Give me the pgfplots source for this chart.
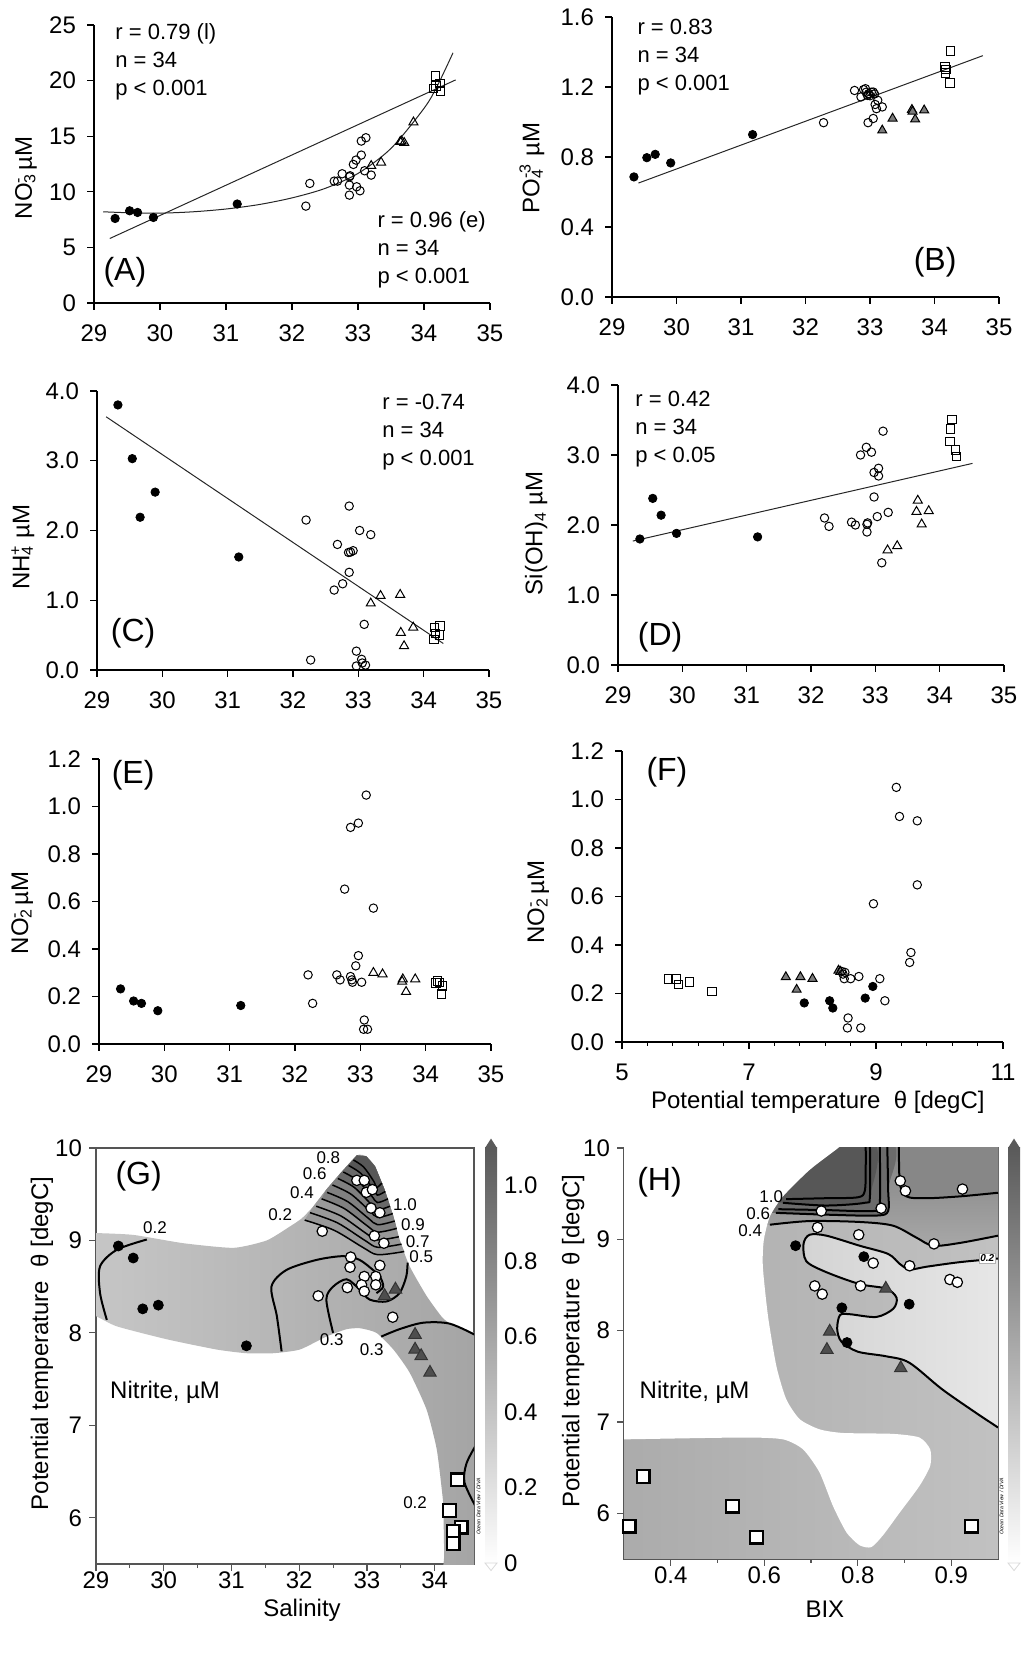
\documentclass[border=0pt]{standalone}
\usepackage{fontspec}
\setmainfont{Liberation Sans}
\usepackage{pgfplots}
\pgfplotsset{compat=1.18}

\newcommand\ft{\fontsize{12}{14}\selectfont}
\newcommand\fy{\fontsize{12}{14}\selectfont}
\newcommand\fa{\fontsize{11}{14}\selectfont}
\newcommand\fl{\fontsize{16}{18}\selectfont}
\newcommand\fc{\fontsize{8.5}{10}\selectfont}

\definecolor{trig}{HTML}{7C7C7C}
\definecolor{trid}{HTML}{4E4E4E}
\definecolor{frm}{HTML}{555555}
\definecolor{cbdark}{HTML}{5A5A5A}

\tikzset{
  anno/.style={font=\fa, align=left, inner sep=0pt},
  plet/.style={font=\fl, inner sep=0pt},
}
\pgfplotsset{
  sc/.style={scale only axis, anchor=south west, axis lines=left,
    axis line style={-,line width=0.6pt}, tick align=outside,
    major tick length=3.5pt, minor tick length=2pt,
    tick style={black,line width=0.6pt},
    tick label style={font=\ft}, label style={font=\fy},
    /pgf/number format/assume math mode=true,
    xmin=29, xmax=35, xtick={29,...,35}, clip=false,
    xticklabel style={yshift=-4pt}, yticklabel style={xshift=-2pt}},
  yfix/.style={yticklabel style={/pgf/number format/.cd,fixed,fixed zerofill,precision=1}},
  blk/.style={only marks, mark=*, mark size=2.1pt, mark options={draw=black, fill=black}},
  opn/.style={only marks, mark=o, mark size=2.1pt, mark options={line width=0.5pt, draw=black}},
  otri/.style={only marks, mark=triangle, mark size=2.6pt, mark options={line width=0.5pt, draw=black}},
  gtri/.style={only marks, mark=triangle*, mark size=2.6pt, mark options={line width=0.5pt, draw=black, fill=trig}},
  osq/.style={only marks, mark=square, mark size=2.1pt, mark options={line width=0.5pt, draw=black}},
  fitl/.style={no marks, line width=0.5pt, black!85},
  map/.style={scale only axis, anchor=south west, axis line style={frm, line width=0.8pt},
    tick align=outside, tick pos=left, major tick length=3.5pt, minor tick length=2pt,
    tick style={frm,line width=0.6pt}, minor x tick num=1,
    tick label style={font=\ft}, label style={font=\fy},
    xticklabel style={yshift=3pt},
    /pgf/number format/assume math mode=true, ymin=5.5, ymax=10, ytick={6,...,10}},
  cline/.style={no marks, smooth, line width=1pt, black},
  fline/.style={no marks, smooth, line width=0.75pt, black},
  Gblk/.style={only marks, mark=*, mark size=2.5pt, mark options={draw=black, fill=black}},
  Gwht/.style={only marks, mark=*, mark size=2.6pt, mark options={line width=0.6pt, draw=black, fill=white}},
  Gtri/.style={only marks, mark=triangle*, mark size=3.6pt, mark options={line width=0.5pt, draw=black!80, fill=trid}},
  Gsq/.style={only marks, mark=square*, mark size=3.2pt, mark options={line width=1.1pt, draw=black, fill=white}},
  cbar/.style={scale only axis, anchor=south west, width=6pt, height=207.5pt,
    xmin=0, xmax=1, ymin=0, ymax=1.1, xtick=\empty, clip=false,
    axis line style={draw=none}, ytick pos=right, tick align=inside,
    major tick length=2pt, tick style={gray, line width=0.4pt},
    ytick={0,0.2,0.4,0.6,0.8,1.0}, tick label style={font=\ft},
    /pgf/number format/assume math mode=true},
}

\begin{document}
\begin{tikzpicture}
\useasboundingbox (0,0) rectangle (511pt,829pt);

% ---------- (A)
\begin{axis}[sc, at={(47pt,677.5pt)}, width=198pt, height=139pt,
  ymin=0, ymax=25, ytick={0,5,10,15,20,25},
  ylabel={NO\rlap{\textsubscript{3}}\textsuperscript{-} µM},
  ylabel style={at={(axis description cs:-0.172,0.45)}, anchor=center}]
\addplot[fitl] coordinates {(29.24,5.8) (34.48,20.06)};
\addplot[fitl, smooth] coordinates {(29.14,8.2) (29.5,8.12) (30,8.08) (30.5,8.2) (31,8.45) (31.5,8.85) (32,9.45) (32.5,10.3) (33,11.65) (33.5,13.9) (34,17.5) (34.2,19.5) (34.44,22.5)};
\addplot[blk] coordinates {(29.32,7.6) (29.54,8.29) (29.66,8.14) (29.90,7.69) (31.17,8.9)};
\addplot[opn] coordinates {(32.21,8.71) (32.27,10.75) (32.64,10.96) (32.69,10.96) (32.76,11.62) (32.87,11.35) (32.88,11.44) (32.87,10.6) (32.87,9.7) (32.93,12.46) (32.97,12.85) (32.98,10.45) (33.03,10.09) (33.05,13.3) (33.05,14.56) (33.12,14.86) (33.10,11.89) (33.20,11.5)};
\addplot[otri] coordinates {(33.20,12.34) (33.35,12.64) (33.64,14.5) (33.70,14.41) (33.66,14.55) (33.84,16.25)};
\addplot[osq] coordinates {(34.17,20.4) (34.14,19.3) (34.24,19.76) (34.25,19.07) (34.18,19.5)};
\node[anno, anchor=north west] at (axis description cs:0.053,1.007) {r = 0.79 (l)\\n = 34\\p < 0.001};
\node[anno, anchor=north west] at (axis description cs:0.715,0.331) {r = 0.96 (e)\\n = 34\\p < 0.001};
\node[plet] at (axis description cs:0.078,0.112) {(A)};
\end{axis}

% ---------- (B)
\begin{axis}[sc, yfix, at={(306pt,680.5pt)}, width=193.5pt, height=140pt,
  ymin=0, ymax=1.6, ytick={0,0.4,0.8,1.2,1.6},
  ylabel={PO\rlap{\textsubscript{4}}\textsuperscript{-3} µM},
  ylabel style={at={(axis description cs:-0.207,0.46)}, anchor=center}]
\addplot[fitl] coordinates {(29.41,0.651) (34.75,1.379)};
\addplot[blk] coordinates {(29.34,0.686) (29.54,0.796) (29.67,0.815) (29.91,0.766) (31.18,0.928)};
\addplot[opn] coordinates {(32.28,0.996) (32.76,1.18) (32.86,1.143) (32.93,1.19) (32.96,1.152) (33.05,1.171) (32.98,1.162) (32.97,0.996) (33.05,1.02) (33.10,1.076) (33.12,1.124) (33.19,1.086) (32.94,1.17) (33.0,1.15) (33.07,1.16) (32.9,1.185) (33.02,1.17) (33.08,1.10)};
\addplot[gtri] coordinates {(33.19,0.952) (33.35,1.02) (33.65,1.07) (33.70,1.015) (33.84,1.067) (33.66,1.06)};
\addplot[osq] coordinates {(34.16,1.314) (34.17,1.28) (34.25,1.406) (34.24,1.223) (34.18,1.30)};
\node[anno, anchor=north west] at (axis description cs:0.065,0.995) {r = 0.83\\n = 34\\p < 0.001};
\node[plet] at (axis description cs:0.835,0.125) {(B)};
\end{axis}

% ---------- (C)
\begin{axis}[sc, yfix, at={(48.5pt,494pt)}, width=196pt, height=139.5pt,
  ymin=0, ymax=4, ytick={0,1,2,3,4},
  ylabel={NH\rlap{\textsubscript{4}}\textsuperscript{+} µM},
  ylabel style={at={(axis description cs:-0.189,0.44)}, anchor=center}]
\addplot[fitl] coordinates {(29.14,3.63) (34.30,0.38)};
\addplot[blk] coordinates {(29.32,3.80) (29.54,3.03) (29.66,2.19) (29.89,2.55) (31.17,1.62)};
\addplot[opn] coordinates {(32.20,2.15) (32.27,0.143) (32.63,1.146) (32.68,1.80) (32.76,1.236) (32.86,2.35) (32.85,1.685) (32.92,1.71) (32.86,1.40) (33.02,2.0) (33.19,1.94) (33.09,0.654) (32.97,0.27) (33.05,0.153) (32.97,0.057) (33.11,0.07) (32.88,1.69) (33.06,0.1)};
\addplot[otri] coordinates {(33.19,0.955) (33.34,1.064) (33.64,1.08) (33.65,0.535) (33.70,0.344) (33.84,0.61)};
\addplot[osq] coordinates {(34.16,0.44) (34.18,0.525) (34.25,0.63) (34.24,0.5) (34.17,0.61)};
\node[anno, anchor=north west] at (axis description cs:0.727,0.989) {r = -0.74\\n = 34\\p < 0.001};
\node[plet] at (axis description cs:0.092,0.133) {(C)};
\end{axis}

% ---------- (D)
\begin{axis}[sc, yfix, at={(309pt,496.5pt)}, width=193pt, height=140pt,
  ymin=0, ymax=4, ytick={0,1,2,3,4},
  ylabel={Si(OH)\textsubscript{4} µM},
  ylabel style={at={(axis description cs:-0.212,0.47)}, anchor=center}]
\addplot[fitl] coordinates {(29.23,1.77) (34.51,2.88)};
\addplot[blk] coordinates {(29.34,1.80) (29.54,2.38) (29.67,2.14) (29.91,1.88) (31.17,1.83)};
\addplot[opn] coordinates {(32.21,2.10) (32.28,1.98) (32.63,2.04) (32.69,2.0) (32.77,3.0) (32.86,3.11) (32.94,3.04) (32.87,1.9) (32.87,2.01) (32.88,2.03) (32.98,2.40) (32.98,2.75) (33.05,2.81) (33.05,2.70) (33.03,2.12) (33.12,3.34) (33.20,2.18) (33.10,1.46)};
\addplot[otri] coordinates {(33.19,1.64) (33.34,1.70) (33.66,2.35) (33.64,2.19) (33.83,2.2) (33.72,2.01)};
\addplot[osq] coordinates {(34.19,3.51) (34.17,3.37) (34.16,3.19) (34.25,3.07) (34.26,2.98)};
\node[anno, anchor=north west] at (axis description cs:0.044,0.979) {r = 0.42\\n = 34\\p < 0.05};
\node[plet] at (axis description cs:0.109,0.10) {(D)};
\end{axis}

% ---------- (E)
\begin{axis}[sc, yfix, at={(49.5pt,307pt)}, width=196pt, height=142.5pt,
  ymin=0, ymax=1.2, ytick={0,0.2,0.4,0.6,0.8,1.0,1.2},
  ylabel={NO\rlap{\textsubscript{2}}\textsuperscript{-} µM},
  ylabel style={at={(axis description cs:-0.196,0.46)}, anchor=center}]
\addplot[blk] coordinates {(29.33,0.232) (29.53,0.181) (29.65,0.171) (29.90,0.14) (31.17,0.162)};
\addplot[opn] coordinates {(32.20,0.291) (32.27,0.171) (32.64,0.291) (32.69,0.27) (32.76,0.652) (32.85,0.912) (32.97,0.930) (33.09,1.048) (33.20,0.572) (32.97,0.372) (32.93,0.329) (32.85,0.284) (32.88,0.26) (33.02,0.26) (33.06,0.101) (33.05,0.062) (33.11,0.062) (32.87,0.27)};
\addplot[otri] coordinates {(33.20,0.30) (33.34,0.294) (33.65,0.273) (33.64,0.263) (33.70,0.22) (33.84,0.273)};
\addplot[osq] coordinates {(34.16,0.256) (34.18,0.266) (34.26,0.245) (34.24,0.211) (34.21,0.26)};
\node[plet] at (axis description cs:0.087,0.944) {(E)};
\end{axis}

% ---------- (F)
\begin{axis}[sc, yfix, at={(311pt,308pt)}, width=190.5pt, height=145.5pt,
  xmin=5, xmax=11, xtick={5,7,9,11}, minor x tick num=4,
  ymin=0, ymax=1.2, ytick={0,0.2,0.4,0.6,0.8,1.0,1.2},
  ylabel={NO\rlap{\textsubscript{2}}\textsuperscript{-} µM},
  ylabel style={at={(axis description cs:-0.22,0.48)}, anchor=center},
  xlabel={Potential temperature\ \ θ [degC]},
  xlabel style={at={(axis description cs:0.514,-0.206)}, anchor=center}]
\addplot[osq] coordinates {(5.73,0.26) (5.85,0.26) (5.89,0.236) (6.06,0.247) (6.42,0.209)};
\addplot[gtri] coordinates {(7.58,0.268) (7.81,0.268) (8.00,0.261) (7.75,0.216) (8.41,0.295) (8.44,0.29)};
\addplot[blk] coordinates {(7.87,0.161) (8.27,0.170) (8.32,0.14) (8.83,0.181) (8.95,0.229)};
\addplot[opn] coordinates {(8.46,0.291) (8.51,0.287) (8.50,0.261) (8.60,0.261) (8.73,0.270) (9.06,0.261) (9.14,0.170) (8.56,0.099) (8.55,0.058) (8.76,0.058) (8.96,0.570) (9.32,1.05) (9.37,0.93) (9.65,0.912) (9.65,0.648) (9.55,0.369) (9.53,0.328) (8.48,0.28)};
\node[plet] at (axis description cs:0.118,0.928) {(F)};
\end{axis}

% ---------- (G)
\begin{axis}[map, at={(48pt,47pt)}, width=189pt, height=208pt,
  xmin=29, xmax=34.58, xtick={29,...,34},
  xlabel={Salinity}, xlabel style={at={(axis description cs:0.545,-0.112)}, anchor=center},
  ylabel={Potential temperature\ \ θ [degC]},
  ylabel style={at={(axis description cs:-0.143,0.53)}, anchor=center}]
\addplot[draw=none, left color=black!22, middle color=black!15, right color=black!36, smooth, tension=0.35] coordinates {
 (28.8,9.08) (29,9.08) (29.55,9.06) (30.29,8.97) (31.03,8.92) (31.52,9.0) (31.86,9.15) (32.04,9.24) (32.21,9.37) (32.40,9.55) (32.60,9.72) (32.85,9.92) (32.99,9.91) (33.12,9.80) (33.26,9.55) (33.39,9.26) (33.48,9.01) (33.63,8.72) (33.88,8.40) (34.12,8.16) (34.3,8.07) (34.55,8.0) (34.8,7.95)
 (34.8,5.3) (34.15,5.3) (34.14,5.6) (34.13,6.0) (34.12,6.2) (34.03,6.74) (33.88,7.17) (33.63,7.57) (33.39,7.82) (33.14,8.0) (32.9,8.05) (32.70,8.04) (32.40,7.96) (32.01,7.82) (31.62,7.78) (31.22,7.78) (30.78,7.82) (30.05,7.93) (29.31,8.07) (29,8.18) (28.8,8.2)} -- cycle;
% peak layers
\addplot[draw=none, fill=black!40] coordinates {(32.08,9.22) (32.515,9.11) (32.95,8.92) (33.16,8.846) (33.55,8.88) (33.48,9.01) (33.39,9.26) (33.26,9.55) (33.12,9.80) (32.99,9.91) (32.85,9.92) (32.60,9.72) (32.40,9.55) (32.21,9.37)} -- cycle;
\addplot[draw=none, fill=black!50] coordinates {(32.33,9.45) (32.665,9.345) (33.00,9.16) (33.154,9.09) (33.44,9.13) (33.39,9.26) (33.26,9.55) (33.12,9.80) (32.99,9.91) (32.85,9.92) (32.60,9.72) (32.40,9.55)} -- cycle;
\addplot[draw=none, fill=black!59] coordinates {(32.57,9.67) (32.81,9.575) (33.05,9.40) (33.152,9.33) (33.34,9.37) (33.26,9.55) (33.12,9.80) (32.99,9.91) (32.85,9.92) (32.60,9.72)} -- cycle;
\addplot[draw=none, fill=black!66] coordinates {(32.73,9.81) (32.91,9.725) (33.09,9.56) (33.153,9.49) (33.27,9.53) (33.12,9.80) (32.99,9.91) (32.85,9.92)} -- cycle;
% peak contour lines
\addplot[fline] coordinates {(32.08,9.22) (32.515,9.11) (32.95,8.92) (33.16,8.846) (33.55,8.88)};
\addplot[fline] coordinates {(32.16,9.30) (32.565,9.19) (32.97,9.00) (33.159,8.926) (33.51,8.96)};
\addplot[fline] coordinates {(32.25,9.37) (32.615,9.265) (32.98,9.08) (33.152,9.006) (33.47,9.04)};
\addplot[fline] coordinates {(32.33,9.45) (32.665,9.345) (33.00,9.16) (33.154,9.09) (33.44,9.13)};
\addplot[fline] coordinates {(32.41,9.52) (32.715,9.42) (33.02,9.24) (33.157,9.17) (33.41,9.21)};
\addplot[fline] coordinates {(32.49,9.60) (32.765,9.50) (33.04,9.32) (33.159,9.25) (33.38,9.29)};
\addplot[fline] coordinates {(32.57,9.67) (32.81,9.575) (33.05,9.40) (33.152,9.33) (33.34,9.37)};
\addplot[fline] coordinates {(32.65,9.74) (32.86,9.65) (33.07,9.48) (33.154,9.41) (33.31,9.45)};
\addplot[fline] coordinates {(32.73,9.81) (32.91,9.725) (33.09,9.56) (33.153,9.49) (33.27,9.53)};
\addplot[fline] coordinates {(32.80,9.87) (32.95,9.795) (33.10,9.64) (33.142,9.573) (33.22,9.62)};
% other contours
\addplot[cline] coordinates {(29.16,8.14) (29.06,8.43) (29.06,8.72) (29.31,8.90) (29.75,9.01)};
\addplot[cline] coordinates {(31.74,7.80) (31.67,8.18) (31.59,8.50) (31.81,8.68) (32.26,8.79) (32.65,8.83) (32.89,8.79) (33.09,8.68) (33.19,8.61) (33.24,8.50) (33.14,8.43)};
\addplot[cline] coordinates {(32.50,8.0) (32.40,8.36) (32.50,8.50) (32.70,8.58) (32.89,8.47) (33.04,8.36) (33.29,8.34) (33.48,8.43) (33.58,8.61) (33.60,8.76)};
\addplot[cline] coordinates {(33.21,7.96) (33.48,8.04) (33.83,8.11) (34.22,8.10) (34.62,7.97)};
\addplot[cline] coordinates {(34.62,6.80) (34.47,6.59) (34.44,6.38) (34.62,6.10)};
% markers
\addplot[Gblk] coordinates {(29.33,8.94) (29.55,8.81) (29.69,8.26) (29.92,8.30) (31.22,7.86)};
\addplot[Gwht] coordinates {(32.34,9.10) (32.28,8.40) (32.85,9.65) (32.96,9.65) (32.99,9.52) (33.08,9.55) (33.06,9.35) (33.19,9.30) (33.11,9.05) (33.25,8.97) (32.76,8.82) (32.75,8.71) (32.96,8.61) (33.13,8.61) (33.19,8.73) (33.13,8.52) (32.92,8.52) (32.96,8.45) (32.71,8.49) (33.38,8.17)};
\addplot[Gtri] coordinates {(33.26,8.40) (33.42,8.47) (33.71,7.98) (33.71,7.82) (33.80,7.75) (33.93,7.57)};
\addplot[Gsq] coordinates {(34.34,6.41) (34.22,6.08) (34.39,5.90) (34.27,5.85) (34.27,5.72)};
% labels
\node[font=\fc] at (axis cs:32.43,9.90) {0.8};
\node[font=\fc] at (axis cs:32.23,9.72) {0.6};
\node[font=\fc] at (axis cs:32.04,9.52) {0.4};
\node[font=\fc] at (axis cs:31.72,9.28) {0.2};
\node[font=\fc] at (axis cs:29.87,9.14) {0.2};
\node[font=\fc] at (axis cs:33.56,9.39) {1.0};
\node[font=\fc] at (axis cs:33.68,9.17) {0.9};
\node[font=\fc] at (axis cs:33.75,8.99) {0.7};
\node[font=\fc] at (axis cs:33.80,8.83) {0.5};
\node[font=\fc] at (axis cs:32.48,7.93) {0.3};
\node[font=\fc] at (axis cs:33.07,7.82) {0.3};
\node[font=\fc] at (axis cs:33.71,6.16) {0.2};
\node[plet] at (axis cs:29.63,9.69) {(G)};
\node[font=\fy] at (axis cs:30.02,7.36) {Nitrite, µM};
\end{axis}
\begin{axis}[cbar, at={(242.5pt,47.5pt)}, yticklabels={0,0.2,0.4,0.6,0.8,1.0}]
\addplot[draw=none, bottom color=white, top color=cbdark] coordinates {(0,0) (1,0) (1,1.1) (0,1.1)} -- cycle;
\addplot[draw=none, fill=cbdark] coordinates {(0,1.1) (1,1.1) (0.5,1.125)} -- cycle;
\addplot[draw=black!15, fill=white] coordinates {(0,0) (1,0) (0.5,-0.02)} -- cycle;
\node[rotate=90, font=\fontsize{2.6}{3}\selectfont\itshape] at (axis cs:-0.55,0.15) {Ocean Data View / DIVA};
\end{axis}

% ---------- (H)
\begin{axis}[map, at={(312pt,49.5pt)}, width=187pt, height=205.5pt,
  xmin=0.3, xmax=1.1, xtick={0.4,0.6,0.8,1.0}, xticklabels={0.4,0.6,0.8,0.9},
  xlabel={BIX}, xlabel style={at={(axis description cs:0.537,-0.122)}, anchor=center},
  ylabel={Potential temperature\ \ θ [degC]},
  ylabel style={at={(axis description cs:-0.136,0.53)}, anchor=center}]
\addplot[draw=none, left color=black!33, right color=black!24] coordinates {(0.28,5.4) (1.12,5.4) (1.12,10.1) (0.28,10.1)} -- cycle;
% light region inside 0.2 contour
\addplot[draw=none, left color=black!17, right color=black!9, smooth] coordinates {(1.1,8.79) (1.018,8.75) (0.947,8.70) (0.911,8.67) (0.890,8.73) (0.865,8.84) (0.804,8.93) (0.733,9.04) (0.697,9.05) (0.684,8.95) (0.690,8.76) (0.733,8.64) (0.804,8.51) (0.861,8.46) (0.883,8.36) (0.876,8.24) (0.840,8.15) (0.783,8.18) (0.762,8.17) (0.756,8.02) (0.765,7.88) (0.80,7.77) (0.86,7.72) (0.91,7.65) (0.98,7.36) (1.05,7.11) (1.1,6.94) (1.13,6.9) (1.13,8.8)} -- cycle;
% region above 0.4
\addplot[draw=none, top color=black!52, bottom color=black!34, smooth] coordinates {(0.55,9.16) (0.619,9.16) (0.697,9.20) (0.804,9.19) (0.875,9.15) (0.925,9.02) (0.961,8.93) (1.018,8.96) (1.1,9.04) (1.13,9.05) (1.13,10.1) (0.55,10.1)} -- cycle;
\addplot[draw=none, fill=black!47, smooth] coordinates {(0.888,10.1) (0.890,9.62) (0.904,9.47) (0.947,9.45) (1.018,9.47) (1.1,9.51) (1.13,9.51) (1.13,10.1)} -- cycle;
\addplot[draw=none, fill=black!58, smooth] coordinates {(0.55,9.29) (0.629,9.29) (0.733,9.27) (0.84,9.26) (0.865,9.31) (0.865,9.55) (0.863,10.1) (0.55,10.1)} -- cycle;
\addplot[draw=none, fill=black!66, smooth] coordinates {(0.55,9.40) (0.644,9.40) (0.733,9.37) (0.815,9.40) (0.826,9.47) (0.826,10.1) (0.55,10.1)} -- cycle;
% white area
\addplot[draw=none, fill=white, smooth, tension=0.4] coordinates {(0.785,10.12) (0.758,10) (0.697,9.76) (0.640,9.47) (0.612,9.25) (0.599,8.99) (0.597,8.70) (0.608,8.16) (0.626,7.61) (0.647,7.25) (0.676,7.03) (0.718,6.92) (0.768,6.88) (0.875,6.87) (0.932,6.83) (0.955,6.70) (0.955,6.52) (0.932,6.30) (0.890,6.01) (0.854,5.76) (0.829,5.63) (0.804,5.65) (0.776,5.79) (0.747,6.08) (0.718,6.45) (0.683,6.70) (0.640,6.81) (0.555,6.83) (0.30,6.81) (0.25,6.81) (0.25,10.12)} -- cycle;
% contour lines
\addplot[cline] coordinates {(0.647,9.44) (0.73,9.45) (0.80,9.46) (0.815,9.53) (0.817,9.78) (0.817,10.05)};
\addplot[cline] coordinates {(0.640,9.40) (0.733,9.37) (0.815,9.40) (0.826,9.47) (0.826,10.05)};
\addplot[cline] coordinates {(0.630,9.33) (0.733,9.32) (0.833,9.31) (0.847,9.38) (0.847,10.05)};
\addplot[cline] coordinates {(0.625,9.29) (0.733,9.27) (0.84,9.26) (0.865,9.31) (0.865,9.55) (0.863,10.05)};
\addplot[cline] coordinates {(0.888,10.05) (0.890,9.62) (0.904,9.47) (0.947,9.45) (1.018,9.47) (1.1,9.51)};
\addplot[cline] coordinates {(0.612,9.16) (0.697,9.20) (0.804,9.19) (0.875,9.15) (0.925,9.02) (0.961,8.93) (1.018,8.96) (1.1,9.04)};
\addplot[cline] coordinates {(1.1,8.79) (1.018,8.75) (0.947,8.70) (0.911,8.67) (0.890,8.73) (0.865,8.84) (0.804,8.93) (0.733,9.04) (0.697,9.05) (0.684,8.95) (0.690,8.76) (0.733,8.64) (0.804,8.51) (0.861,8.46) (0.883,8.36) (0.876,8.24) (0.840,8.15) (0.783,8.18) (0.762,8.17) (0.756,8.02) (0.765,7.88) (0.80,7.77) (0.86,7.72) (0.91,7.65) (0.98,7.36) (1.05,7.11) (1.1,6.94)};
% markers
\addplot[Gsq] coordinates {(0.341,6.40) (0.311,5.86) (0.532,6.08) (0.583,5.74) (1.043,5.86)};
\addplot[Gwht] coordinates {(0.891,9.64) (0.902,9.53) (1.024,9.55) (0.722,9.31) (0.850,9.34) (0.714,9.13) (0.802,9.05) (0.963,8.95) (0.833,8.74) (0.911,8.71) (0.997,8.56) (1.013,8.53) (0.708,8.49) (0.724,8.40) (0.806,8.49)};
\addplot[Gblk] coordinates {(0.667,8.93) (0.813,8.81) (0.766,8.25) (0.910,8.29) (0.777,7.87)};
\addplot[Gtri] coordinates {(0.860,8.46) (0.740,7.99) (0.734,7.79) (0.892,7.59)};
% labels
\node[font=\fc] at (axis cs:0.615,9.47) {1.0};
\node[font=\fc] at (axis cs:0.587,9.28) {0.6};
\node[font=\fc] at (axis cs:0.570,9.09) {0.4};
\node[fill=white, draw=black!30, inner sep=0.6pt, font=\bfseries\itshape\fontsize{5}{6}\selectfont] at (axis cs:1.077,8.79) {0.2};
\node[plet] at (axis cs:0.376,9.63) {(H)};
\node[font=\fy] at (axis cs:0.451,7.33) {Nitrite, µM};
\end{axis}
\begin{axis}[cbar, at={(504pt,47.5pt)}, yticklabels={}]
\addplot[draw=none, bottom color=white, top color=cbdark] coordinates {(0,0) (1,0) (1,1.1) (0,1.1)} -- cycle;
\addplot[draw=none, fill=cbdark] coordinates {(0,1.1) (1,1.1) (0.5,1.125)} -- cycle;
\addplot[draw=black!15, fill=white] coordinates {(0,0) (1,0) (0.5,-0.02)} -- cycle;
\node[rotate=90, font=\fontsize{2.6}{3}\selectfont\itshape] at (axis cs:-0.55,0.15) {Ocean Data View / DIVA};
\end{axis}
\end{tikzpicture}
\end{document}
